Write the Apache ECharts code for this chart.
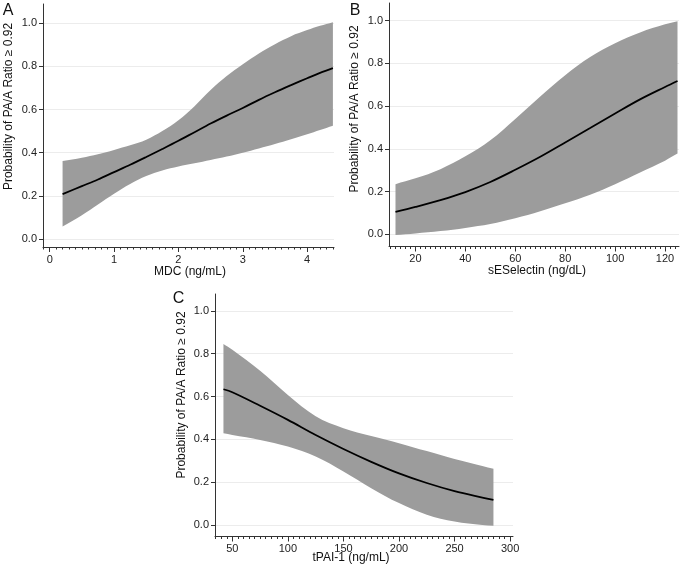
<!DOCTYPE html>
<html><head><meta charset="utf-8">
<script src="https://cdn.jsdelivr.net/npm/echarts@6/dist/echarts.min.js"></script>
<style>html,body{margin:0;padding:0;background:#fff}#c{width:680px;height:571px}</style>
</head><body><div id="c"></div>
<script>
// Panel A: MDC (ng/mL)
const aX    = [0.2, 0.5, 0.75, 1.0, 1.25, 1.5, 1.75, 2.0, 2.25, 2.5, 2.75, 3.0, 3.25, 3.5, 3.75, 4.0, 4.2, 4.4];
const aMean = [0.208, 0.245, 0.276, 0.31, 0.344, 0.38, 0.417, 0.455, 0.495, 0.535, 0.572, 0.607, 0.645, 0.68, 0.713, 0.745, 0.77, 0.792];
const aUp   = [0.362, 0.377, 0.393, 0.413, 0.434, 0.46, 0.5, 0.55, 0.615, 0.69, 0.755, 0.81, 0.86, 0.903, 0.94, 0.968, 0.988, 1.005];
const aLow  = [0.058, 0.11, 0.16, 0.21, 0.255, 0.292, 0.318, 0.336, 0.351, 0.366, 0.382, 0.4, 0.42, 0.44, 0.462, 0.485, 0.505, 0.525];

// Panel B: sESelectin (ng/dL)
const bX    = [12, 20, 30, 40, 50, 60, 70, 80, 90, 100, 110, 120, 125];
const bMean = [0.105, 0.128, 0.16, 0.198, 0.245, 0.302, 0.363, 0.43, 0.498, 0.566, 0.632, 0.69, 0.718];
const bUp   = [0.235, 0.262, 0.305, 0.365, 0.44, 0.54, 0.645, 0.745, 0.83, 0.895, 0.945, 0.983, 0.997];
const bLow  = [-0.003, 0.004, 0.015, 0.03, 0.048, 0.075, 0.108, 0.145, 0.185, 0.235, 0.29, 0.345, 0.378];

// Panel C: tPAI-1 (ng/mL)
const cX    = [42, 50, 75, 100, 125, 150, 175, 200, 225, 250, 275, 285];
const cMean = [0.634, 0.62, 0.557, 0.491, 0.42, 0.355, 0.295, 0.241, 0.196, 0.158, 0.128, 0.117];
const cUp   = [0.845, 0.818, 0.72, 0.607, 0.508, 0.452, 0.415, 0.382, 0.345, 0.308, 0.275, 0.262];
const cLow  = [0.428, 0.42, 0.397, 0.366, 0.32, 0.25, 0.172, 0.102, 0.048, 0.016, 0.0, -0.004];

// Tick labels
const yTicks = [0, 0.2, 0.4, 0.6, 0.8, 1.0];
const aTicks = [0, 1, 2, 3, 4];
const bTicks = [20, 40, 60, 80, 100, 120];
const cTicks = [50, 100, 150, 200, 250, 300];

const yTitle = 'Probability of PA/A Ratio \u2265 0.92';
const xTitles = ['MDC (ng/mL)', 'sESelectin (ng/dL)', 'tPAI-1 (ng/mL)'];
const letters = ['A', 'B', 'C'];

const FONT = '"Liberation Sans", Arial, Helvetica, sans-serif';
const AXC = '#333';
const BAND = '#9c9c9c';

function range(from, to, step, dec) {
  const out = [];
  const n = Math.round((to - from) / step);
  for (let i = 0; i <= n; i++) out.push(+(from + i * step).toFixed(dec));
  return out;
}
const aMinor = range(-0.1, 4.4, 0.1, 2);
const bMinor = range(10, 124, 2, 0);
const cMinor = range(35, 300, 5, 0);

const grids = [
  { left: 43, top: 4, width: 291, height: 243 },
  { left: 389, top: 3, width: 290, height: 243.5 },
  { left: 215, top: 294, width: 298, height: 242.5 }
];
const xr = [[-0.104, 4.417], [9.4, 125.6], [34.4, 302.6]];
const yr = [[-0.037, 1.089], [-0.057, 1.083], [-0.054, 1.079]];
const majors = [aTicks, bTicks, cTicks];
const minors = [aMinor, bMinor, cMinor];

const xAxis = [], yAxis = [], series = [];
for (let g = 0; g < 3; g++) {
  xAxis.push({
    type: 'value', gridIndex: g, min: xr[g][0], max: xr[g][1], position: 'bottom',
    axisLine: { show: true, onZero: false, lineStyle: { color: AXC, width: 1 } },
    axisTick: { show: true, customValues: majors[g], length: 5, lineStyle: { color: AXC, width: 1 } },
    axisLabel: { customValues: majors[g], margin: 7, color: '#222', fontSize: 11, fontFamily: FONT },
    splitLine: { show: false }
  });
  yAxis.push({
    type: 'value', gridIndex: g, min: yr[g][0], max: yr[g][1],
    axisLine: { show: true, onZero: false, lineStyle: { color: AXC, width: 1 } },
    axisTick: { show: true, customValues: yTicks, length: 4, lineStyle: { color: AXC, width: 1 } },
    axisLabel: { customValues: yTicks, margin: 6, color: '#222', fontSize: 11, fontFamily: FONT,
      formatter: v => (+v).toFixed(1) },
    splitLine: { show: true, lineStyle: { color: '#ececec', width: 1 } }
  });
}
// minor tick axes
for (let g = 0; g < 3; g++) {
  xAxis.push({
    type: 'value', gridIndex: g, min: xr[g][0], max: xr[g][1], position: 'bottom',
    axisLine: { show: false, onZero: false },
    axisTick: { show: true, customValues: minors[g], length: 2.5, lineStyle: { color: AXC, width: 1 } },
    axisLabel: { show: false },
    splitLine: { show: false }
  });
}

const panels = [[aX, aLow, aUp, aMean], [bX, bLow, bUp, bMean], [cX, cLow, cUp, cMean]];
panels.forEach((p, g) => {
  const [xs, lo, up, mean] = p;
  series.push({
    type: 'custom', xAxisIndex: g, yAxisIndex: g, clip: true, silent: true, z: 1,
    data: [[xs[0], up[0]]],
    renderItem: function (params, api) {
      const pts = [];
      const n = xs.length;
      for (let i = 0; i < n; i++) pts.push(api.coord([xs[i], up[i]]));
      pts.push(api.coord([xs[n - 1], up[n - 1]]));
      pts.push(api.coord([xs[n - 1], lo[n - 1]]));
      for (let i = n - 1; i >= 0; i--) pts.push(api.coord([xs[i], lo[i]]));
      pts.push(api.coord([xs[0], lo[0]]));
      pts.push(api.coord([xs[0], up[0]]));
      return { type: 'polygon', shape: { points: pts, smooth: 0.35 }, style: { fill: BAND, stroke: null } };
    }
  });
  series.push({
    type: 'line', xAxisIndex: g, yAxisIndex: g,
    data: xs.map((x, i) => [x, mean[i]]), symbol: 'none', smooth: 0.35,
    lineStyle: { color: '#000', width: 1.8 }, silent: true, z: 3
  });
});

const txt = (text, x, y, size, rot) => ({
  type: 'text', x: x, y: y, rotation: rot || 0,
  style: { text: text, fill: '#111', font: size + 'px ' + FONT, textAlign: 'center', textVerticalAlign: 'middle' }
});
const graphic = [
  txt(letters[0], 8, 11, 16), txt(letters[1], 355, 10.5, 16), txt(letters[2], 178.5, 299, 16),
  txt(yTitle, 8.5, 106.5, 12, Math.PI / 2),
  txt(yTitle, 355, 109, 12, Math.PI / 2),
  txt(yTitle, 182, 395, 12, Math.PI / 2),
  txt(xTitles[0], 190, 271.5, 12), txt(xTitles[1], 537, 271, 12), txt(xTitles[2], 351, 557.5, 12)
];

const chart = echarts.init(document.getElementById('c'), null, { renderer: 'canvas' });
chart.setOption({
  animation: false, backgroundColor: '#fff',
  grid: grids, xAxis: xAxis, yAxis: yAxis, series: series, graphic: graphic
});
</script></body></html>
